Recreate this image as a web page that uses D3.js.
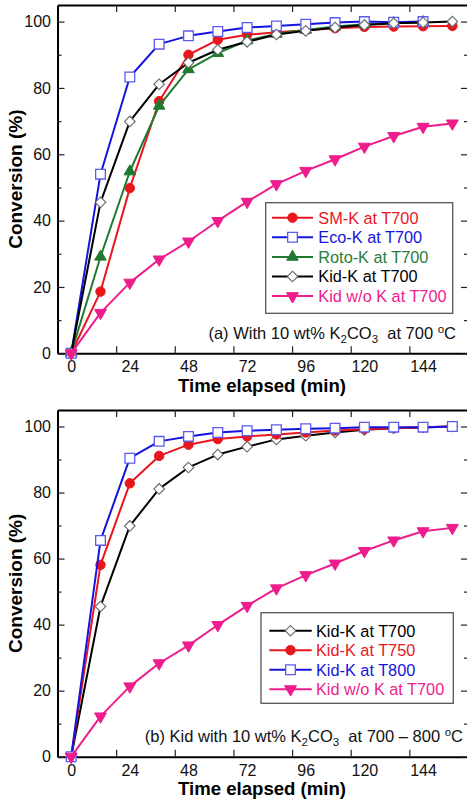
<!DOCTYPE html>
<html><head><meta charset="utf-8">
<script src="https://cdn.jsdelivr.net/npm/d3@7"></script>
<style>
html,body{margin:0;padding:0;background:#fff;}
svg{display:block;font-family:"Liberation Sans",Arial,Helvetica,sans-serif;}
</style></head><body>
<svg id="fig" width="467" height="802"></svg>
<script>
// Conversion (%) versus time elapsed (min)
const timeMin = [0, 12, 24, 36, 48, 60, 72, 84, 96, 108, 120, 132, 144, 156];

// panel (a): 10 wt% K2CO3 at 700 oC
const smK700   = [0, 18.6, 49.8, 76.0, 90.0, 94.5, 96.0, 96.8, 97.4, 98.0, 98.4, 98.5, 98.6, 98.7];
const ecoK700  = [0, 54.0, 83.3, 93.2, 95.7, 97.0, 98.2, 98.7, 99.2, 99.7, 100.0, 99.8, 100.0];
const rotoK700 = [0, 29.1, 54.8, 74.6, 85.6, 90.5, 94.3, 96.3, 97.5, 98.5, 99.2, 99.5, 99.8];
const kidK700  = [0, 45.5, 69.9, 81.1, 87.6, 91.5, 93.9, 96.1, 97.2, 98.2, 99.0, 99.5, 99.7, 100.0];
const kidNoK700 = [0, 12.2, 21.3, 28.3, 33.7, 39.9, 45.7, 51.0, 55.0, 58.5, 62.3, 65.5, 68.3, 69.3];

// panel (b): Kid with 10 wt% K2CO3 at 700 - 800 oC
const kidK750 = [0, 58.1, 82.8, 91.1, 94.5, 96.2, 97.0, 97.6, 98.2, 98.8, 99.2, 99.5, 99.8, 100.0];
const kidK800 = [0, 65.5, 90.4, 95.5, 97.0, 98.2, 98.7, 99.0, 99.3, 99.5, 99.8, 99.8, 99.8, 100.0];

const xTickLabels = [0, 24, 48, 72, 96, 120, 144];
const yTickLabels = [0, 20, 40, 60, 80, 100];
const yMinorTicks = [10, 30, 50, 70, 90];

const xAxisMin = -5.6, xAxisMax = 162.4;
// tick marks start from the axis minimum, every 24 min
const xTickMarks = d3.range(xAxisMin + 24, xAxisMax, 24);

const C = {
  red: "#e8161d", blue: "#1414dc", green: "#1f7a30", black: "#000", pink: "#ee1c8c"
};

const svg = d3.select("#fig");
const x = d3.scaleLinear().domain([xAxisMin, xAxisMax]).range([57.5, 468]);

const markers = {
  circle:  {type: d3.symbolCircle, size: 70, rot: 0, fill: c => c, stroke: c => c, sw: 1},
  square:  {type: d3.symbolSquare, size: 94, rot: 0, fill: () => "#fff", stroke: () => "#5a5af0", sw: 1.3},
  tri:     {type: d3.symbolTriangle, size: 58, rot: 0, fill: c => c, stroke: c => c, sw: 1},
  diamond: {type: d3.symbolSquare, size: 56, rot: 45, fill: () => "#fff", stroke: () => "#666", sw: 1.1},
  down:    {type: d3.symbolTriangle, size: 62, rot: 180, fill: c => c, stroke: c => c, sw: 1}
};

function drawMarker(g, kind, color, cx, cy) {
  const m = markers[kind];
  g.append("path")
    .attr("d", d3.symbol().type(m.type).size(m.size)())
    .attr("transform", `translate(${cx},${cy}) rotate(${m.rot})`)
    .attr("fill", m.fill(color))
    .attr("stroke", m.stroke(color))
    .attr("stroke-width", m.sw);
}

function panel(cfg) {
  const y = d3.scaleLinear().domain([0, 105]).range([cfg.bottom, cfg.top]);
  const g = svg.append("g");

  const styleAxis = sel => {
    sel.select(".domain").attr("stroke", "#000").attr("stroke-width", 2);
    sel.selectAll(".tick line").attr("stroke", "#222").attr("stroke-width", 1.2);
    sel.selectAll("text").attr("font-size", 16).attr("fill", "#111")
      .attr("font-family", '"Liberation Sans", Arial, sans-serif');
  };

  // tick marks, all pointing into the frame
  g.append("g").attr("transform", `translate(0,${cfg.bottom})`)
    .call(d3.axisBottom(x).tickValues(xTickMarks).tickSize(-7).tickSizeOuter(0).tickFormat(""))
    .call(styleAxis);
  g.append("g").attr("transform", `translate(0,${cfg.top})`)
    .call(d3.axisTop(x).tickValues(xTickMarks).tickSize(-7).tickSizeOuter(0).tickFormat(""))
    .call(styleAxis);
  g.append("g").attr("transform", `translate(0,${cfg.bottom})`)
    .call(d3.axisBottom(x).tickValues(xTickLabels).tickSize(0).tickPadding(7.8).tickFormat(d3.format("d")))
    .call(styleAxis)
    .call(s => s.select(".domain").remove());

  g.append("g").attr("transform", `translate(57.5,0)`)
    .call(d3.axisLeft(y).tickValues(yTickLabels).tickSize(-7).tickSizeOuter(0).tickPadding(6.5).tickFormat(d3.format("d")))
    .call(styleAxis);
  g.append("g").attr("transform", `translate(57.5,0)`)
    .call(d3.axisLeft(y).tickValues(yMinorTicks).tickSize(-4).tickSizeOuter(0).tickFormat(""))
    .call(styleAxis).call(s => s.select(".domain").remove());
  g.append("g").attr("transform", `translate(468,0)`)
    .call(d3.axisRight(y).tickValues(yTickLabels).tickSize(-7).tickSizeOuter(0).tickFormat(""))
    .call(styleAxis);
  g.append("g").attr("transform", `translate(468,0)`)
    .call(d3.axisRight(y).tickValues(yMinorTicks).tickSize(-4).tickSizeOuter(0).tickFormat(""))
    .call(styleAxis).call(s => s.select(".domain").remove());

  // series
  const line = d3.line().x((d, i) => x(timeMin[i])).y(d => y(d));
  cfg.series.forEach(s => {
    const sg = g.append("g");
    sg.append("path").datum(s.values).attr("d", line)
      .attr("fill", "none").attr("stroke", s.color).attr("stroke-width", 2)
      .attr("stroke-linejoin", "round");
    s.values.forEach((v, i) => drawMarker(sg, s.marker, s.color, x(timeMin[i]), y(v)));
  });

  // legend
  const L = cfg.legend;
  g.append("rect").attr("x", L.x0).attr("y", L.y0).attr("width", L.x1 - L.x0).attr("height", L.y1 - L.y0)
    .attr("fill", "#fff").attr("stroke", "#555").attr("stroke-width", 1.3);
  L.rows.forEach((r, i) => {
    const cy = L.firstRow + i * L.step;
    g.append("line").attr("x1", L.lx0).attr("x2", L.lx1).attr("y1", cy).attr("y2", cy)
      .attr("stroke", r.color).attr("stroke-width", 2);
    drawMarker(g, r.marker, r.color, (L.lx0 + L.lx1) / 2, cy);
    g.append("text").attr("x", L.tx).attr("y", cy + 5.9).attr("font-size", 16.3)
      .attr("fill", r.textColor || r.color).text(r.label);
  });

  // panel caption
  const t = g.append("text").attr("x", cfg.note.x).attr("y", cfg.note.y)
    .attr("text-anchor", "end").attr("font-size", 16.5).attr("fill", "#111")
    .style("white-space", "pre");
  cfg.note.parts.forEach(p => {
    const ts = t.append("tspan").text(p[0]);
    if (p[1] === "sub") ts.attr("font-size", 11.5).attr("dy", 4);
    if (p[1] === "base") ts.attr("dy", -4);
    if (p[1] === "sup") ts.attr("font-size", 11.5).attr("dy", -6);
    if (p[1] === "down") ts.attr("dy", 6);
  });

  // axis titles
  g.append("text").attr("x", 262).attr("y", cfg.bottom + 38.6).attr("text-anchor", "middle")
    .attr("font-size", 18.6).attr("font-weight", "bold").attr("fill", "#000").text("Time elapsed (min)");
  g.append("text").attr("transform", `translate(22,${(cfg.top + cfg.bottom) / 2}) rotate(-90)`)
    .attr("text-anchor", "middle").attr("font-size", 19).attr("font-weight", "bold")
    .attr("fill", "#000").text("Conversion (%)");
}

panel({
  top: 5, bottom: 353.3,
  series: [
    {values: smK700, color: C.red, marker: "circle"},
    {values: rotoK700, color: C.green, marker: "tri"},
    {values: ecoK700, color: C.blue, marker: "square"},
    {values: kidK700, color: C.black, marker: "diamond"},
    {values: kidNoK700, color: C.pink, marker: "down"}
  ],
  legend: {
    x0: 265.7, x1: 452.7, y0: 202.7, y1: 313.3, firstRow: 217.7, step: 19.6,
    lx0: 272, lx1: 313, tx: 318.3,
    rows: [
      {label: "SM-K at T700", color: C.red, marker: "circle"},
      {label: "Eco-K at T700", color: C.blue, marker: "square"},
      {label: "Roto-K at T700", color: C.green, marker: "tri", textColor: "#2a7d3a"},
      {label: "Kid-K at T700", color: C.black, marker: "diamond"},
      {label: "Kid w/o K at T700", color: C.pink, marker: "down"}
    ]
  },
  note: {x: 456, y: 338.5, parts: [
    ["(a) With 10 wt% K"], ["2", "sub"], ["CO", "base"], ["3", "sub"],
    ["  at 700 ", "base"], ["o", "sup"], ["C", "down"]
  ]}
});

panel({
  top: 410, bottom: 756.7,
  series: [
    {values: kidK700, color: C.black, marker: "diamond"},
    {values: kidK750, color: C.red, marker: "circle"},
    {values: kidK800, color: C.blue, marker: "square"},
    {values: kidNoK700, color: C.pink, marker: "down"}
  ],
  legend: {
    x0: 261, x1: 453.3, y0: 612.7, y1: 703.3, firstRow: 630.7, step: 19.5,
    lx0: 269.3, lx1: 311.7, tx: 316,
    rows: [
      {label: "Kid-K at T700", color: C.black, marker: "diamond"},
      {label: "Kid-K at T750", color: C.red, marker: "circle"},
      {label: "Kid-K at T800", color: C.blue, marker: "square"},
      {label: "Kid w/o K at T700", color: C.pink, marker: "down"}
    ]
  },
  note: {x: 463, y: 741.5, parts: [
    ["(b) Kid with 10 wt% K"], ["2", "sub"], ["CO", "base"], ["3", "sub"],
    ["  at 700 \u2013 800 ", "base"], ["o", "sup"], ["C", "down"]
  ]}
});
</script>
</body></html>
